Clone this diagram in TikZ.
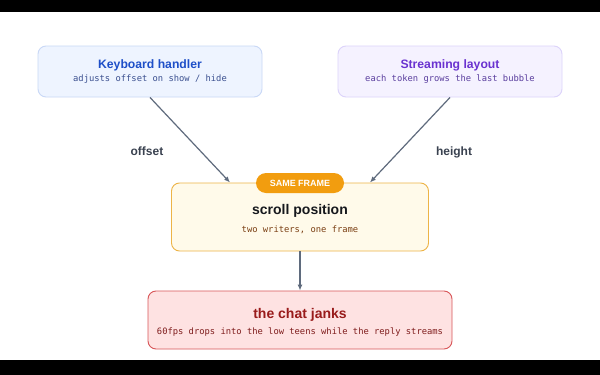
\documentclass[tikz,border=0pt]{standalone}
\usepackage{fontspec}
\setmainfont{Liberation Sans}
\setmonofont{DejaVu Sans Mono}
\usetikzlibrary{arrows.meta,calc}
\definecolor{kbfill}{HTML}{EEF4FF}
\definecolor{kbdraw}{HTML}{C9D8F6}
\definecolor{kbtitle}{HTML}{1E4FC8}
\definecolor{kbsub}{HTML}{3A4F8F}
\definecolor{slfill}{HTML}{F5F2FF}
\definecolor{sldraw}{HTML}{DCD3FA}
\definecolor{sltitle}{HTML}{6A32D0}
\definecolor{slsub}{HTML}{5A3E9E}
\definecolor{spfill}{HTML}{FFFAEA}
\definecolor{spdraw}{HTML}{EDB448}
\definecolor{sptitle}{HTML}{16181D}
\definecolor{spsub}{HTML}{7A3E12}
\definecolor{pill}{HTML}{F29D0F}
\definecolor{cjfill}{HTML}{FEE2E2}
\definecolor{cjdraw}{HTML}{D85558}
\definecolor{cjtitle}{HTML}{991B1B}
\definecolor{cjsub}{HTML}{7F1D1D}
\definecolor{arrowc}{HTML}{5F6B7D}
\definecolor{labelc}{HTML}{3A4250}
\tikzset{
  box/.style={rounded corners=8pt, line width=0.9pt, inner sep=0pt},
  title/.style={anchor=base, inner sep=0pt, font=\fontsize{12.2}{14}\selectfont\bfseries},
  bigtitle/.style={anchor=base, inner sep=0pt, font=\fontsize{14}{16}\selectfont\bfseries},
  sub/.style={anchor=base, inner sep=0pt, font=\fontsize{8.8}{10}\selectfont\ttfamily},
  lbl/.style={anchor=base, inner sep=0pt, text=labelc, font=\fontsize{12}{14}\selectfont\bfseries},
  conn/.style={draw=arrowc, line width=1.2pt, -{Latex[length=6pt,width=5pt]}},
}
\begin{document}
\begin{tikzpicture}[x=1pt,y=-1pt]
\useasboundingbox (0,0) rectangle (600,375);
\fill[white] (0,0) rectangle (600,375);
\fill[black] (0,0) rectangle (600,12);
\fill[black] (0,360) rectangle (600,375);

% boxes
\node[box, fill=kbfill, draw=kbdraw, minimum width=224pt, minimum height=51pt] (kb) at (150,71.5) {};
\node[title, text=kbtitle] (kbt) at (150,68) {Keyboard handler};
\node[sub, text=kbsub] (kbs) at (150,81.7) {adjusts offset on show / hide};

\node[box, fill=slfill, draw=sldraw, minimum width=224pt, minimum height=51pt] (sl) at (450,71.5) {};
\node[title, text=sltitle] (slt) at (450,68) {Streaming layout};
\node[sub, text=slsub] (sls) at (450,81.7) {each token grows the last bubble};

\node[box, fill=spfill, draw=spdraw, minimum width=257pt, minimum height=68pt] (sp) at (300,217) {};
\node[bigtitle, text=sptitle] (spt) at (300,214.3) {scroll position};
\node[sub, text=spsub] (sps) at (300,232) {two writers, one frame};

\node[rounded corners=10pt, fill=pill, inner sep=0pt, minimum width=88pt, minimum height=20pt] (pl) at (300,183) {};
\node[anchor=base, inner sep=0pt, text=white, font=\fontsize{9}{10}\selectfont\bfseries] (plt) at (300,186.8) {SAME FRAME};

\node[box, fill=cjfill, draw=cjdraw, minimum width=304pt, minimum height=58pt] (cj) at (300,320) {};
\node[bigtitle, text=cjtitle] (cjt) at (300,318.3) {the chat janks};
\node[sub, text=cjsub] (cjs) at (300,334) {60fps drops into the low teens while the reply streams};

% connectors
\coordinate (spl) at ($(sp.north west)+(59,0)$);
\coordinate (spr) at ($(sp.north east)+(-59,0)$);
\draw[conn] (kb.south) -- (spl);
\draw[conn] (sl.south) -- (spr);
\draw[conn] (sp.south) -- (cj.north);

\node[lbl] (off) at (147,155) {offset};
\node[lbl] (hgt) at (454,155) {height};
\end{tikzpicture}
\end{document}
